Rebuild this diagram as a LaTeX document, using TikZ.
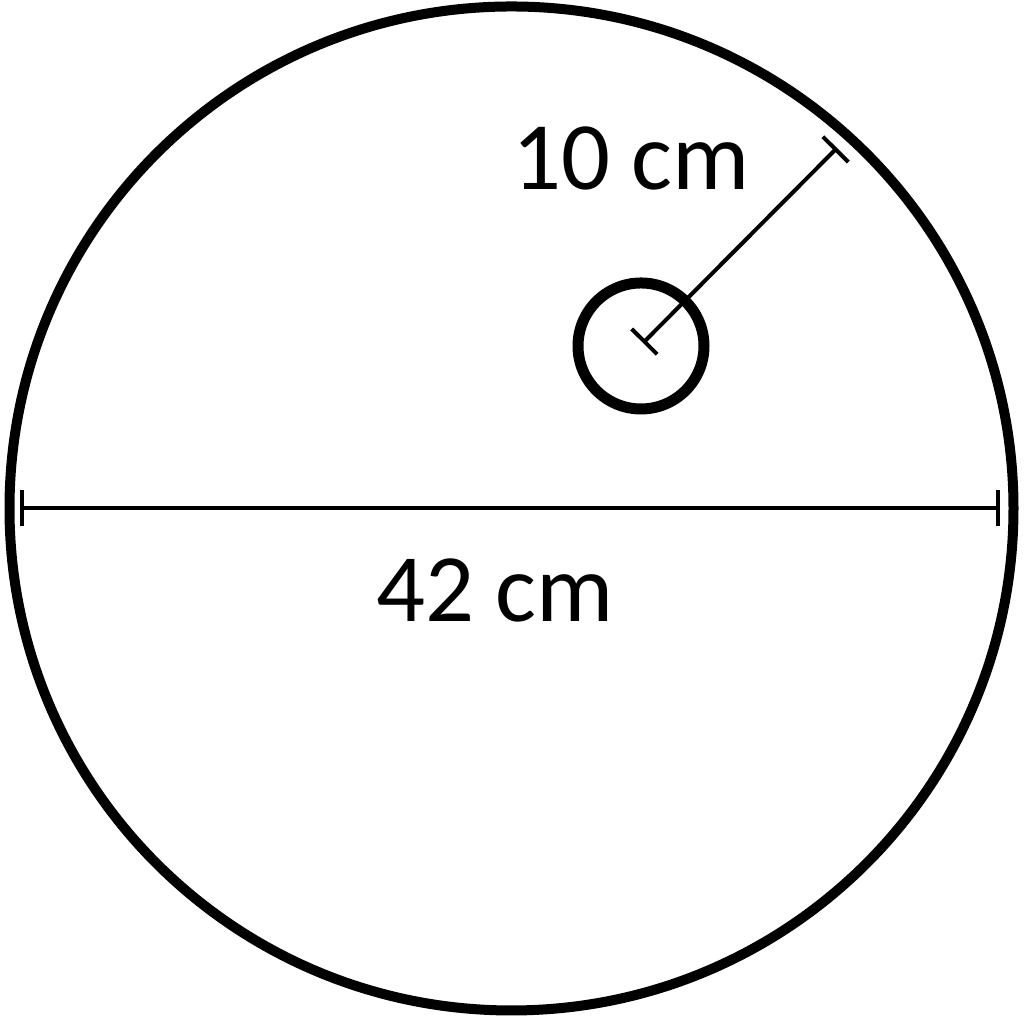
\documentclass[tikz,border=0pt]{standalone}
\usepackage{fontspec}
\setmainfont{Carlito}
\usetikzlibrary{arrows.meta}
\tikzset{rim line/.style={black, line width=1mm}}
\tikzset{measure it/.style={black, line width=0.4mm, {Bar[width=3.6mm]}-{Bar[width=3.6mm]}}}
\tikzset{size label/.style={inner sep=0pt, font=\fontsize{27.5}{32}\selectfont}}

\begin{document}
\begin{tikzpicture}
\useasboundingbox (0,0) rectangle (10.24,10.20);

% Draw the big outer circle
\draw[rim line] (5.115,5.115) circle (5.02);
% Draw the small inner circle
\draw[rim line, line width=1.1mm] (6.41,6.74) circle (0.63);

% End points of the two measures
\coordinate (dia_left) at (0.20,5.115);
\coordinate (dia_right) at (10.00,5.115);
\coordinate (rad_in) at (6.43,6.77);
\coordinate (rad_out) at (8.37,8.72);

% Draw the diameter measure
\draw[measure it] (dia_left) -- (dia_right);
% Draw the slanted radius measure
\draw[measure it] (rad_in) -- (rad_out);

% Labels
\node[size label] (rad_label) at (6.31,8.62) {10 cm};
\node[size label] (dia_label) at (4.95,4.30) {42 cm};

\end{tikzpicture}
\end{document}
